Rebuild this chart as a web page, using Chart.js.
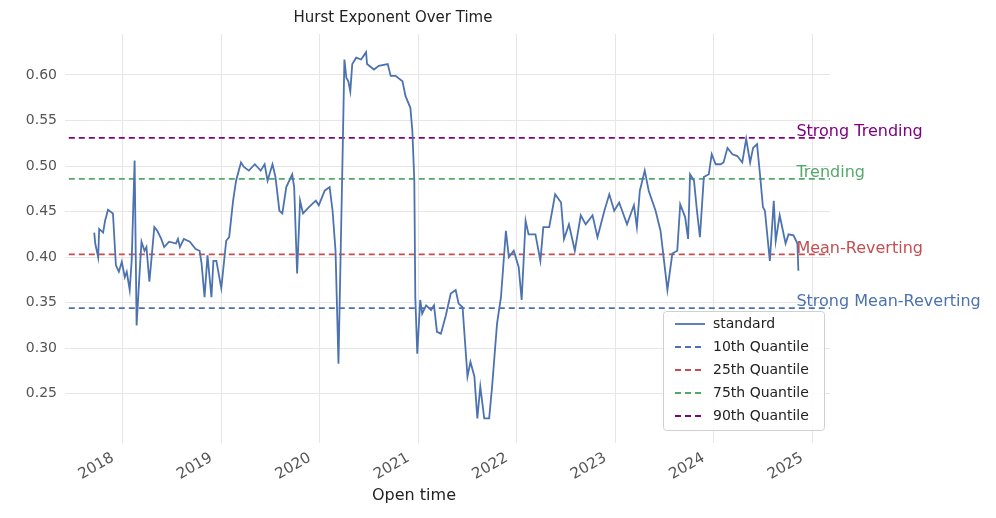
<!DOCTYPE html>
<html><head><meta charset="utf-8">
<script src="https://cdn.jsdelivr.net/npm/chart.js@4"></script>
<style>html,body{margin:0;padding:0;background:#fff}#w{width:996px;height:518px}</style>
</head><body><div id="w"><canvas id="c"></canvas></div>
<script>
const years = [2017.71,2017.72,2017.75,2017.76,2017.80,2017.82,2017.85,2017.90,2017.93,2017.96,2017.99,2018.02,2018.04,2018.07,2018.09,2018.12,2018.14,2018.17,2018.19,2018.22,2018.24,2018.27,2018.32,2018.35,2018.39,2018.42,2018.47,2018.54,2018.56,2018.58,2018.62,2018.68,2018.74,2018.78,2018.80,2018.83,2018.86,2018.90,2018.92,2018.95,2019.00,2019.05,2019.08,2019.12,2019.15,2019.20,2019.23,2019.28,2019.34,2019.40,2019.44,2019.47,2019.52,2019.55,2019.59,2019.62,2019.66,2019.72,2019.74,2019.77,2019.80,2019.83,2019.89,2019.96,2019.99,2020.05,2020.10,2020.13,2020.16,2020.19,2020.21,2020.23,2020.25,2020.27,2020.29,2020.31,2020.33,2020.37,2020.42,2020.47,2020.48,2020.55,2020.60,2020.69,2020.72,2020.77,2020.84,2020.87,2020.92,2020.94,2020.96,2020.97,2020.99,2021.02,2021.04,2021.08,2021.13,2021.16,2021.19,2021.23,2021.28,2021.33,2021.38,2021.41,2021.45,2021.50,2021.53,2021.57,2021.60,2021.63,2021.67,2021.72,2021.75,2021.80,2021.84,2021.89,2021.92,2021.97,2022.02,2022.05,2022.09,2022.12,2022.19,2022.24,2022.27,2022.33,2022.36,2022.39,2022.45,2022.48,2022.53,2022.59,2022.65,2022.70,2022.77,2022.82,2022.89,2022.94,2022.99,2023.04,2023.12,2023.19,2023.22,2023.25,2023.30,2023.34,2023.41,2023.46,2023.53,2023.58,2023.63,2023.66,2023.71,2023.74,2023.76,2023.80,2023.83,2023.86,2023.90,2023.95,2023.98,2024.02,2024.07,2024.10,2024.14,2024.19,2024.24,2024.29,2024.33,2024.37,2024.40,2024.44,2024.47,2024.50,2024.52,2024.57,2024.61,2024.63,2024.67,2024.73,2024.76,2024.81,2024.85,2024.86];
const hurst = [0.427,0.415,0.400,0.431,0.427,0.440,0.452,0.448,0.391,0.384,0.395,0.378,0.384,0.364,0.396,0.506,0.325,0.382,0.417,0.407,0.411,0.373,0.433,0.429,0.420,0.411,0.417,0.415,0.420,0.411,0.420,0.417,0.409,0.407,0.393,0.356,0.402,0.356,0.396,0.396,0.366,0.418,0.422,0.462,0.484,0.504,0.499,0.495,0.502,0.495,0.502,0.484,0.502,0.488,0.451,0.448,0.477,0.491,0.477,0.382,0.462,0.448,0.455,0.462,0.457,0.473,0.477,0.451,0.407,0.283,0.393,0.502,0.617,0.597,0.593,0.582,0.612,0.619,0.617,0.625,0.612,0.606,0.610,0.612,0.599,0.599,0.593,0.577,0.564,0.539,0.484,0.356,0.294,0.353,0.338,0.347,0.342,0.347,0.318,0.316,0.336,0.360,0.364,0.349,0.345,0.269,0.285,0.269,0.223,0.258,0.223,0.223,0.258,0.327,0.356,0.429,0.400,0.407,0.389,0.353,0.440,0.425,0.425,0.396,0.433,0.433,0.451,0.469,0.460,0.420,0.436,0.407,0.446,0.436,0.446,0.422,0.451,0.469,0.451,0.460,0.436,0.457,0.433,0.473,0.495,0.473,0.451,0.429,0.364,0.404,0.407,0.458,0.444,0.420,0.491,0.484,0.451,0.422,0.488,0.491,0.513,0.502,0.502,0.504,0.520,0.513,0.511,0.504,0.530,0.504,0.520,0.524,0.491,0.455,0.451,0.396,0.462,0.418,0.446,0.415,0.425,0.424,0.415,0.385];
const quantileNames = ['10th Quantile','25th Quantile','75th Quantile','90th Quantile'];
const quantileValues = [0.344,0.403,0.486,0.531];
const quantileLabels = ['Strong Mean-Reverting','Mean-Reverting','Trending','Strong Trending'];
const quantileColors = ['#4c72b0','#c44e52','#55a868','#800080'];
const yearTicks = [2018,2019,2020,2021,2022,2023,2024,2025];

const xMin = 2017.413, xMax = 2025.181, labelX = 2024.84;
const datasets = [{label:'standard',data:years.map((x,i)=>({x,y:hurst[i]})),borderColor:'#4c72b0',borderWidth:1.8,pointRadius:0,tension:0}];
quantileValues.forEach((v,i)=>datasets.push({label:quantileNames[i],data:[{x:2017.35,y:v},{x:xMax,y:v}],borderColor:quantileColors[i],borderWidth:1.7,borderDash:[6,4],pointRadius:0}));

const deco = {id:'deco',afterDraw(ch){
  const c=ch.ctx,xs=ch.scales.x,ys=ch.scales.y;
  c.save();
  c.font='15px "DejaVu Sans"';c.fillStyle='#222';c.textAlign='center';c.textBaseline='middle';
  c.fillText('Hurst Exponent Over Time',393,18);
  c.font='16px "DejaVu Sans"';c.fillText('Open time',414,496);
  c.textAlign='left';c.textBaseline='bottom';
  quantileValues.forEach((v,i)=>{c.fillStyle=quantileColors[i];c.fillText(quantileLabels[i],xs.getPixelForValue(labelX),ys.getPixelForValue(v)+2);});
  const bx=663,by=311,bw=161,bh=119;
  c.fillStyle='rgba(255,255,255,0.85)';c.strokeStyle='#d0d0d0';c.lineWidth=1;
  c.beginPath();c.roundRect(bx+0.5,by+0.5,bw,bh,3);c.fill();c.stroke();
  const names=['standard',...quantileNames],cols=['#4c72b0',...quantileColors];
  c.font='14px "DejaVu Sans"';c.textBaseline='middle';
  names.forEach((n,i)=>{const y=by+13+i*23;c.strokeStyle=cols[i];c.lineWidth=1.8;c.setLineDash(i?[6,4]:[]);
    c.beginPath();c.moveTo(675,y);c.lineTo(705,y);c.stroke();c.fillStyle='#222';c.fillText(n,713,y);});
  c.restore();
}};

new Chart(document.getElementById('c'),{type:'line',data:{datasets},plugins:[deco],
options:{responsive:true,maintainAspectRatio:false,animation:false,
 layout:{padding:{left:8,right:166,top:34,bottom:0}},
 plugins:{legend:{display:false},tooltip:{enabled:false}},
 scales:{
  x:{type:'linear',min:xMin,max:xMax,border:{display:false},grid:{color:'#e6e6e6',drawTicks:false},
     afterBuildTicks:s=>{s.ticks=yearTicks.map(v=>({value:v}));},
     afterFit:s=>{s.height=75;},
     ticks:{color:'#555',font:{size:15,family:'DejaVu Sans'},minRotation:30,maxRotation:30,padding:6,labelOffset:-10,callback:v=>String(v)},
     title:{display:false}},
  y:{min:0.196,max:0.645,border:{display:false},grid:{color:'#e6e6e6',drawTicks:false},
     afterBuildTicks:s=>{s.ticks=[0.25,0.30,0.35,0.40,0.45,0.50,0.55,0.60].map(v=>({value:v}));},
     afterFit:s=>{s.width=57;},
     ticks:{color:'#555',font:{size:14,family:'DejaVu Sans'},padding:8,callback:v=>v.toFixed(2)}}
 }}});
</script></body></html>
